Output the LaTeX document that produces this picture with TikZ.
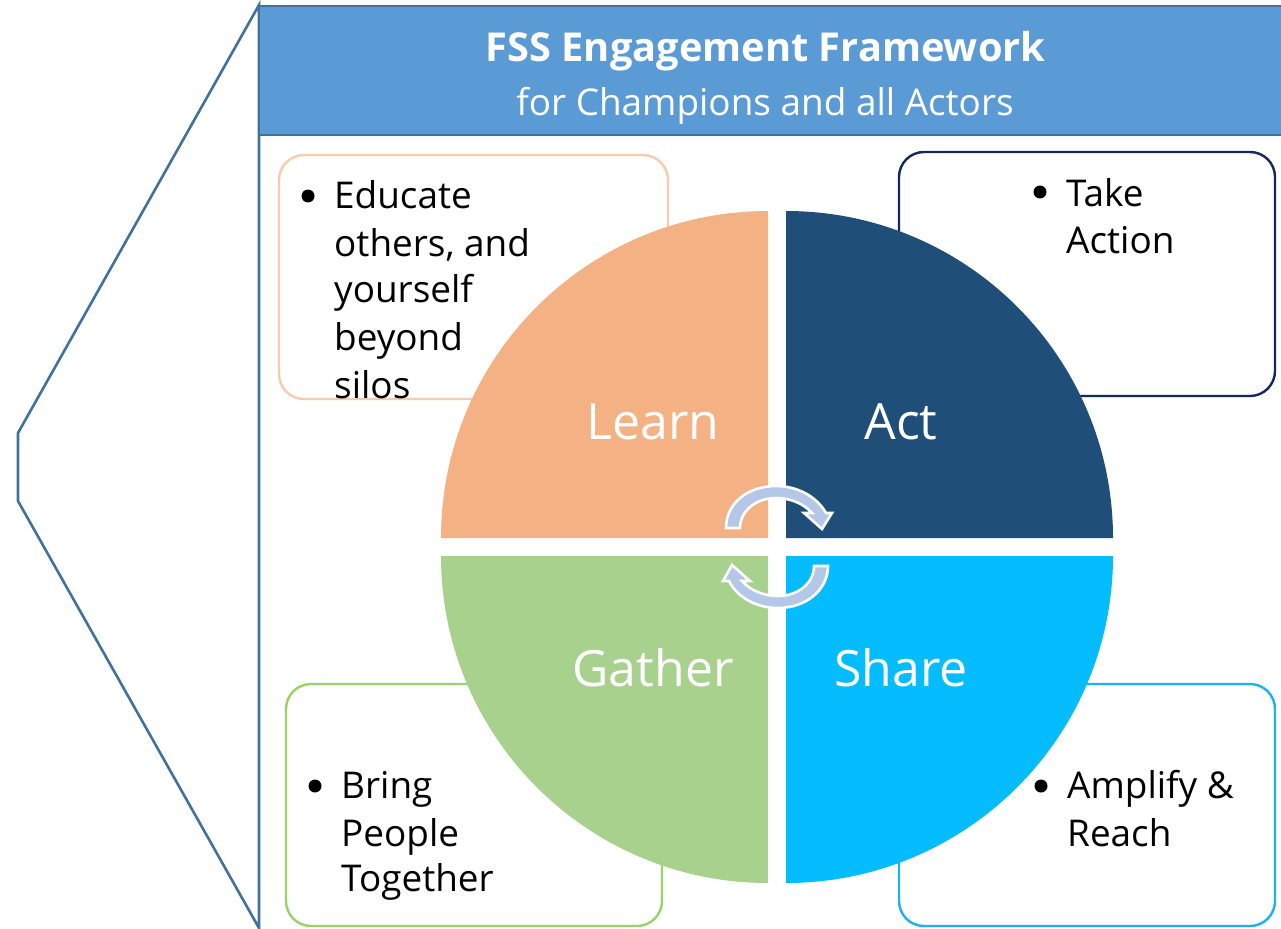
\documentclass[tikz,border=0pt]{standalone}
\usepackage{fontspec}
\setmainfont{Open Sans}
\definecolor{frame}{HTML}{41719C}
\definecolor{head}{HTML}{5B9BD5}
\definecolor{learnc}{HTML}{F4B183}
\definecolor{actc}{HTML}{1F4E79}
\definecolor{gatherc}{HTML}{A9D18E}
\definecolor{sharec}{HTML}{05BCFF}
\definecolor{arrowc}{HTML}{B4C7E7}
\definecolor{learnb}{HTML}{F8CBAD}
\definecolor{actb}{HTML}{14275F}
\definecolor{gatherb}{HTML}{9BD266}
\definecolor{shareb}{HTML}{1CB2EE}
\tikzset{
  x=1pt,y=-1pt,
  panel/.style={draw=#1,line width=2.4pt,fill=white,rounded corners=25pt},
  quad/.style={fill=#1,draw=none},
  cyc/.style={fill=arrowc,draw=white,line width=2.6pt,line join=miter},
  body/.style={anchor=base west,inner sep=0pt,font=\fontsize{36.9}{37}\selectfont,text=black},
  dot/.style={circle,fill=black,inner sep=0pt,minimum size=13pt},
  qlabel/.style={anchor=base,inner sep=0pt,text=white,font=\fontsize{50}{50}\selectfont},
}
\begin{document}
\begin{tikzpicture}
\useasboundingbox (0,0) rectangle (1281,928);
% frame
\draw[frame,line width=2.6pt] (259,928) -- (18,501) -- (18,433) -- (259,5) -- cycle;
% header
\fill[head] (259,6) rectangle (1281,135);
\draw[frame,line width=2.8pt] (259,135) -- (1281,135);
\draw[frame,line width=2.8pt] (259,6) -- (1281,6);
\draw[frame,line width=2.8pt] (259,6) -- (259,135);
\node[inner sep=0pt,text=white,font=\fontsize{39.8}{40}\selectfont\bfseries] (title) at (765.5,51) {FSS Engagement Framework};
\node[inner sep=0pt,text=white,font=\fontsize{36.9}{37}\selectfont] (subtitle) at (765,106) {for Champions and all Actors};
% panels
\path[panel=learnb] (279,155) rectangle (668,399);
\path[panel=actb] (899,152) rectangle (1275,396);
\path[panel=gatherb] (286,684) rectangle (662,926);
\path[panel=shareb] (899,684) rectangle (1275,926);
% panel texts
\node[dot] (d1) at (308,196) {};
\node[body] (e1) at (334,208) {Educate};
\node[body] (e2) at (334,256) {others, and};
\node[body] (e3) at (334,302) {yourself};
\node[body] (e4) at (334,350) {beyond};
\node[body] (e5) at (334,398) {silos};
\node[dot] (d2) at (1040,192) {};
\node[body] (a1) at (1066,206) {Take};
\node[body] (a2) at (1066,253) {Action};
\node[dot] (d3) at (315,786) {};
\node[body] (g1) at (341,798) {Bring};
\node[body] (g2) at (341,846) {People};
\node[body] (g3) at (341,891) {Together};
\node[dot] (d4) at (1041,786) {};
\node[body] (s1) at (1067,798) {Amplify \&};
\node[body] (s2) at (1067,846) {Reach};
% quadrants (radius 327)
\path[quad=learnc] (768,538) -- (441,538) .. controls (441,357.4) and (587.4,211) .. (768,211) -- cycle;
\path[quad=actc] (786,538) -- (786,211) .. controls (966.6,211) and (1113,357.4) .. (1113,538) -- cycle;
\path[quad=gatherc] (768,556) -- (441,556) .. controls (441,736.6) and (587.4,883) .. (768,883) -- cycle;
\path[quad=sharec] (786,556) -- (786,883) .. controls (966.6,883) and (1113,736.6) .. (1113,556) -- cycle;
% labels
\node[qlabel] (learn) at (653,439) {Learn};
\node[qlabel] (act) at (901,439) {Act};
\node[qlabel] (gather) at (653,686) {Gather};
\node[qlabel] (share) at (901,686) {Share};
% cycle arrows
\path[cyc] (726,528) .. controls (726,503) and (748,486) .. (776,486)
  .. controls (798,486) and (817,497) .. (826,513) -- (832,513) -- (822,529) -- (804,513) -- (812,513)
  .. controls (804,504) and (791,498) .. (776,498)
  .. controls (756,498) and (740,511) .. (740,528) -- cycle;
\path[cyc] (828,566) .. controls (828,590) and (806,608) .. (778,608)
  .. controls (756,608) and (737,597) .. (729,581) -- (723,581) -- (732,565) -- (750,581) -- (742,581)
  .. controls (750,590) and (763,596) .. (778,596)
  .. controls (798,596) and (814,583) .. (814,566) -- cycle;
\end{tikzpicture}
\end{document}
